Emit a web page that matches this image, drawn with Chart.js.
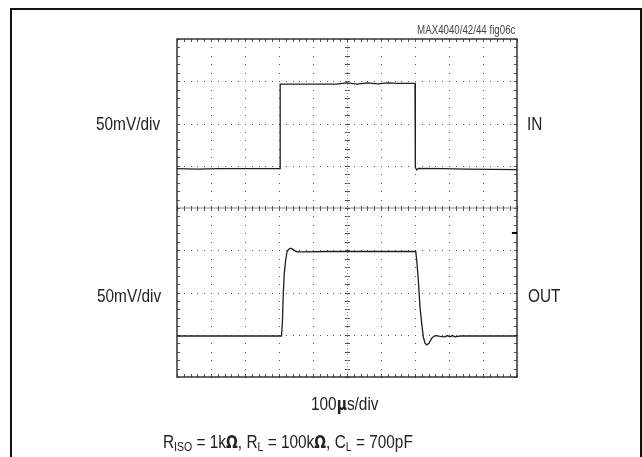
<!DOCTYPE html>
<html>
<head>
<meta charset="utf-8">
<script src="https://cdn.jsdelivr.net/npm/chart.js@4/dist/chart.umd.min.js"></script>
<style>
  body { margin: 0; background: #fff; }
  #wrap { position: relative; width: 642px; height: 457px; overflow: hidden; }
  #scope { position: absolute; left: 0; top: 0; }
  #frame { position: absolute; left: 10px; top: 8px; width: 628px; height: 480px; border: 2px solid #111; }
  .lbl { position: absolute; font-family: "Liberation Sans", Arial, sans-serif;
         font-size: 19px; line-height: 19px; color: #222; white-space: nowrap;
         transform: scaleX(0.81); transform-origin: left top; }
  .small { font-size: 12px; line-height: 12px; color: #444; transform-origin: right top; }
  .sym { font-family: "DejaVu Sans", sans-serif; font-weight: bold; font-size: 0.9em; }
  sub { font-size: 13px; vertical-align: -3px; line-height: 0; }
</style>
</head>
<body>
<div id="wrap">
  <div id="frame"></div>
  <canvas id="scope" width="642" height="457"></canvas>
  <div class="lbl small" style="right:127px; top:24px;">MAX4040/42/44 fig06c</div>
  <div class="lbl" style="left:96px; top:114px;">50mV/div</div>
  <div class="lbl" style="left:527px; top:114px;">IN</div>
  <div class="lbl" style="left:97px; top:286px;">50mV/div</div>
  <div class="lbl" style="left:528px; top:286px;">OUT</div>
  <div class="lbl" style="left:311px; top:394px;">100<span class="sym">µ</span>s/div</div>
  <div class="lbl" style="left:163px; top:432px; font-size:19px;">R<sub>ISO</sub> = 1k<span class="sym">Ω</span>, R<sub>L</sub> = 100k<span class="sym">Ω</span>, C<sub>L</sub> = 700pF</div>
</div>
<script>
// time in µs (100µs/div), level in divisions (50mV/div), 0 = bottom of screen
const inTime  = [0, 60, 120, 200, 303, 303.5, 360, 420, 470, 500, 530, 560, 590, 620, 650, 700, 701, 705, 710, 780, 850, 1000];
const inLevel = [4.93, 4.92, 4.93, 4.93, 4.93, 6.93, 6.93, 6.93, 6.93, 6.96, 6.93, 6.96, 6.94, 6.96, 6.95, 6.95, 4.96, 4.90, 4.94, 4.93, 4.92, 4.91];

const outTime  = [0, 150, 307.4, 310.3, 312.6, 315.6, 319.7, 323.5, 327.9, 333.8, 341.2, 350, 362, 450, 550, 650,
                  702.1, 705, 709.7, 714.7, 719.7, 724.4, 729.4, 734.4, 741.2, 749.1, 756.8, 763, 773.5, 788, 795, 803, 810, 817.6, 832, 900, 1000];
const outLevel = [0.97, 0.97, 0.97, 1.35, 1.99, 2.46, 2.77, 2.96, 3.02, 3.05, 3.02, 2.97, 2.96, 2.97, 2.97, 2.97,
                  2.97, 2.77, 2.30, 1.66, 1.27, 0.95, 0.80, 0.76, 0.80, 0.92, 0.97, 0.98, 0.96, 0.95, 0.98, 0.95, 0.98, 0.95, 0.97, 0.97, 0.97];

// channel marker at right edge
const markTime  = [985, 1000];
const markLevel = [3.41, 3.41];

const xDivs = 10, yDivs = 8, usPerDiv = 100;

const pts = (xs, ys) => xs.map((x, i) => ({x: x, y: ys[i]}));

const graticule = {
  id: 'graticule',
  beforeDatasetsDraw(chart) {
    const {ctx, chartArea: a, scales: {x, y}} = chart;
    ctx.save();
    // centre horizontal line
    const cy = y.getPixelForValue(yDivs / 2);
    ctx.strokeStyle = '#c4c4c4';
    ctx.lineWidth = 2;
    ctx.beginPath(); ctx.moveTo(a.left, cy); ctx.lineTo(a.right, cy); ctx.stroke();

    ctx.fillStyle = '#555';
    // dotted vertical lines
    for (let i = 1; i < xDivs; i++) {
      const px = Math.round(x.getPixelForValue(i * usPerDiv));
      for (let j = 0; j <= yDivs * 5; j++) {
        const py = Math.round(y.getPixelForValue(j / 5));
        if (i === xDivs / 2) ctx.fillRect(px - 2, py, 5, 1);
        else ctx.fillRect(px, py, 1, 1);
      }
    }
    // dotted horizontal lines
    for (let j = 1; j < yDivs; j++) {
      const py = Math.round(y.getPixelForValue(j));
      for (let i = 0; i <= xDivs * 5; i++) {
        const px = Math.round(x.getPixelForValue(i * usPerDiv / 5));
        if (j === yDivs / 2) ctx.fillRect(px, py - 2, 1, 5);
        else ctx.fillRect(px, py, 1, 1);
      }
    }
    // centre vertical dotted line
    const cx = Math.round(x.getPixelForValue(xDivs / 2 * usPerDiv));
    ctx.fillStyle = '#999';
    for (let py = a.top; py < a.bottom; py += 3) ctx.fillRect(cx, py, 1, 1);
    // ticks along the border
    ctx.fillStyle = '#555';
    for (let j = 0; j <= yDivs * 5; j++) {
      const py = Math.round(y.getPixelForValue(j / 5));
      ctx.fillRect(a.left, py, 3, 1);
      ctx.fillRect(a.right - 3, py, 3, 1);
    }
    for (let i = 0; i <= xDivs * 5; i++) {
      const px = Math.round(x.getPixelForValue(i * usPerDiv / 5));
      ctx.fillRect(px, a.top, 1, 3);
      ctx.fillRect(px, a.bottom - 3, 1, 3);
    }
    // screen border
    ctx.strokeStyle = '#333';
    ctx.lineWidth = 1.5;
    ctx.strokeRect(a.left, a.top, a.right - a.left, a.bottom - a.top);
    ctx.restore();
  }
};

new Chart(document.getElementById('scope'), {
  type: 'line',
  data: {
    datasets: [
      {label: 'IN', data: pts(inTime, inLevel), borderColor: '#1e1e1e', borderWidth: 1.3},
      {label: 'OUT', data: pts(outTime, outLevel), borderColor: '#1e1e1e', borderWidth: 1.3},
      {label: 'marker', data: pts(markTime, markLevel), borderColor: '#000', borderWidth: 2}
    ]
  },
  options: {
    responsive: false,
    animation: false,
    events: [],
    elements: {point: {radius: 0}, line: {tension: 0}},
    layout: {padding: {left: 177, right: 125, top: 39, bottom: 80}},
    scales: {
      x: {type: 'linear', min: 0, max: xDivs * usPerDiv, display: false},
      y: {type: 'linear', min: 0, max: yDivs, display: false}
    },
    plugins: {legend: {display: false}, tooltip: {enabled: false}}
  },
  plugins: [graticule]
});
</script>
</body>
</html>
